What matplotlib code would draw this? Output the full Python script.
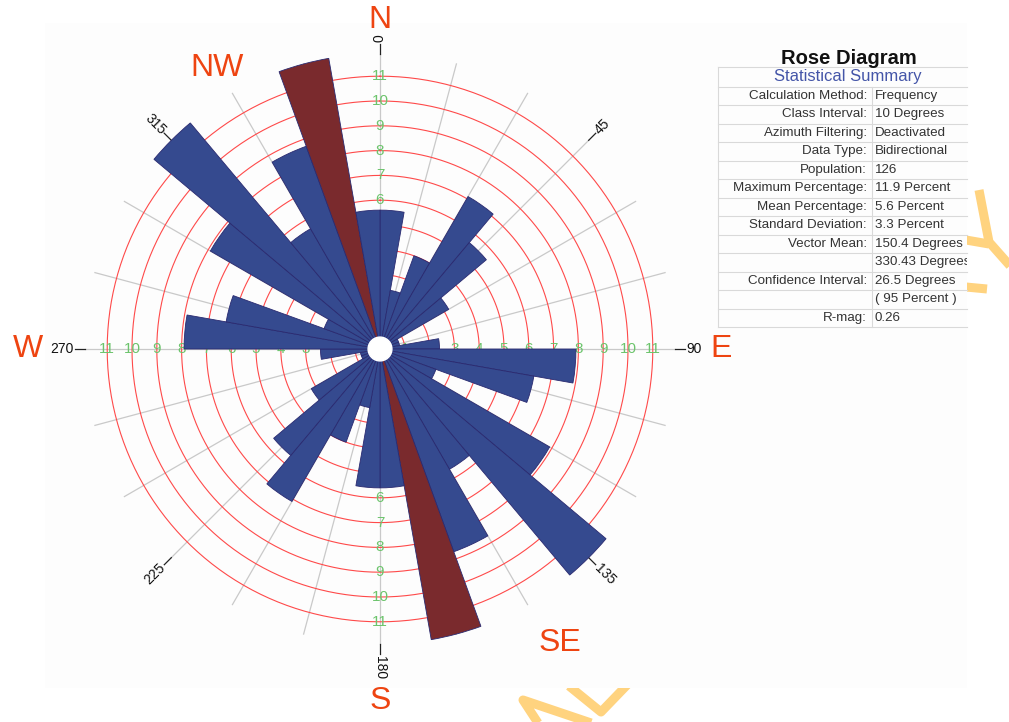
import numpy as np
import matplotlib.pyplot as plt

plt.rcParams['font.family'] = ['Liberation Sans', 'DejaVu Sans']

# percent of joints per 10 degree class, 0-180; data is bidirectional so 180-360 repeats it
class_start = list(range(0, 180, 10))
class_pct = [5.6, 2.4, 4.0, 7.1, 5.6, 3.2, 0.8, 0.8, 2.4,
             7.9, 6.3, 2.4, 7.9, 11.9, 5.6, 8.7, 11.9, 5.6]
highlight_start = [160]

ring_values = list(range(1, 12))
axis_bearings = [0, 90, 180, 270]
degree_ticks = [0, 45, 90, 135, 180, 225, 270, 315]

compass_names = ['N', 'NW', 'E', 'S', 'SE', 'W']
compass_bearing = [0, 330, 90, 180, 148.5, 270]
compass_radius = [13.25, 13.1, 13.75, 14.2, 13.9, 14.2]

summary_labels = ['Calculation Method:', 'Class Interval:', 'Azimuth Filtering:',
                  'Data Type:', 'Population:', 'Maximum Percentage:',
                  'Mean Percentage:', 'Standard Deviation:', 'Vector Mean:', '',
                  'Confidence Interval:', '', 'R-mag:']
summary_values = ['Frequency', '10 Degrees', 'Deactivated', 'Bidirectional', '126',
                  '11.9 Percent', '5.6 Percent', '3.3 Percent', '150.4 Degrees',
                  '330.43 Degrees', '26.5 Degrees', '( 95 Percent )', '0.26']

W, H = 1009, 722
fig = plt.figure(figsize=(W / 100, H / 100), dpi=100)

# background layer: watermark strokes and the pale page panel
bg = fig.add_axes([0, 0, 1, 1])
bg.set_xlim(0, W)
bg.set_ylim(H, 0)
bg.axis('off')
wm = dict(color='#FFD37F', lw=6.5, solid_capstyle='butt', zorder=1)
bg.plot([979, 989, 1012], [190, 242, 268], **wm)
bg.plot([966, 989], [240, 244], **wm)
bg.plot([966, 987], [287, 289], **wm)
bg.plot([569, 601, 628], [686, 712, 684], **wm)
bg.plot([540, 523, 600], [726, 700, 726], **wm)
bg.add_patch(plt.Rectangle((45, 23), 922, 665, fc='#FDFDFD', ec='none', zorder=2))

# rose diagram
px = 24.8          # pixels per percent
rmax = 12.8
cx, cy = 380, 349
R = rmax * px
ax = fig.add_axes([(cx - R) / W, (H - cy - R) / H, 2 * R / W, 2 * R / H],
                  projection='polar')
ax.set_theta_zero_location('N')
ax.set_theta_direction(-1)
ax.set_ylim(0, rmax)
ax.set_axis_off()

t = np.linspace(0, 2 * np.pi, 361)
for v in ring_values:
    ax.plot(t, np.full_like(t, v), color='#FF4A4A', lw=0.8, zorder=1)

for a in range(0, 360, 15):
    ax.plot([np.deg2rad(a)] * 2, [0, 11.9], color='#C9C9C9', lw=0.9, zorder=0.5)

for b in axis_bearings:
    for v in ring_values:
        ax.text(np.deg2rad(b), v, str(v), color='#6CC46C', fontsize=11,
                ha='center', va='center', zorder=2)

starts = class_start + [s + 180 for s in class_start]
values = class_pct + class_pct
colors = ['#7A2A2D' if (s % 180) in highlight_start else '#354A8F' for s in starts]
ax.bar(np.deg2rad(starts), values, width=np.deg2rad(10), align='edge',
       color=colors, edgecolor='#2A2A70', linewidth=0.6, zorder=3)
ax.fill(t, np.full_like(t, 0.48), color='white', zorder=4)

for a in degree_ticks:
    th = np.deg2rad(a)
    ax.plot([th, th], [11.9, 12.3], color='#222222', lw=0.9, zorder=2)
    rot = 90 - a
    ha = 'left'
    if a > 180:
        rot += 180
        ha = 'right'
    ax.text(th, 12.36, str(a), rotation=rot, rotation_mode='anchor',
            ha=ha, va='center', fontsize=10, color='#111111')

for name, b, r in zip(compass_names, compass_bearing, compass_radius):
    ax.text(np.deg2rad(b), r, name, color='#EE4411', fontsize=23,
            ha='center', va='center')

# statistical summary table
fig.text(849 / W, 1 - 58 / H, 'Rose Diagram', fontsize=14.5, fontweight='bold',
         ha='center', va='center', color='#111111')
top, head, row_h, n = 67.3, 86.7, 18.5, len(summary_labels)
bottom = head + row_h * n
tx = fig.add_axes([718 / W, 1 - bottom / H, (967 - 718) / W, (bottom - top) / H])
tx.set_xlim(718, 967)
tx.set_ylim(bottom, top)
tx.axis('off')
grid = dict(color='#D9D9D9', lw=0.8, clip_on=False)
tx.plot([718, 967], [top, top], **grid)
for k in range(n + 1):
    y = head + row_h * k
    tx.plot([718, 967], [y, y], **grid)
tx.plot([718.5, 718.5], [top, bottom], **grid)
tx.plot([871.7, 871.7], [head, bottom], **grid)
tx.text(848, (top + head) / 2, 'Statistical Summary', color='#4455A8',
        fontsize=12, ha='center', va='center', clip_on=True)
for i, (lab, val) in enumerate(zip(summary_labels, summary_values)):
    y = head + row_h * (i + 0.5)
    tx.text(867, y, lab, fontsize=9.6, ha='right', va='center',
            color='#333333', clip_on=True)
    tx.text(875, y, val, fontsize=9.6, ha='left', va='center',
            color='#333333', clip_on=True)

fig.savefig('out.png', dpi=100, facecolor='white')
